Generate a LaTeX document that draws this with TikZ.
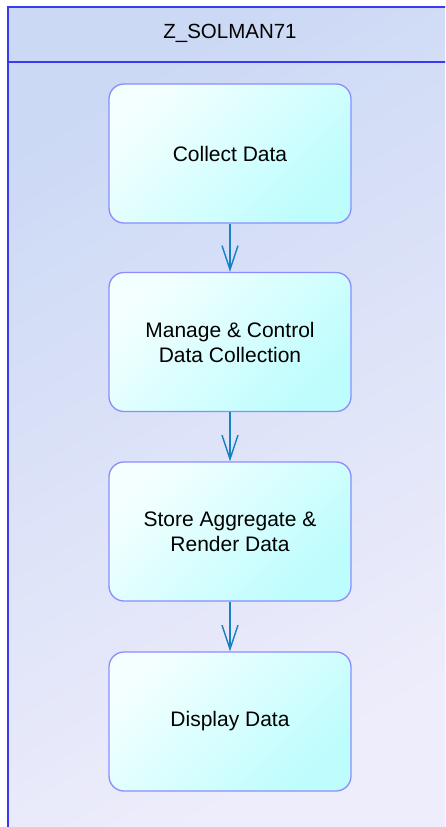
\documentclass[tikz,border=0pt]{standalone}
\usepackage{fontspec}
\setmainfont{Liberation Sans}
\usetikzlibrary{arrows.meta}
\definecolor{bgA}{HTML}{CCD9F5}
\definecolor{bgB}{HTML}{EEEDFB}
\definecolor{frameblue}{HTML}{3A3AF5}
\definecolor{boxA}{HTML}{F4FFFF}
\definecolor{boxB}{HTML}{BDFDFD}
\definecolor{boxline}{HTML}{8C8CFF}
\definecolor{arrowc}{HTML}{1A80C4}
\tikzset{
  actbox/.style={draw=boxline, line width=1.3pt, rounded corners=15pt,
    minimum width=242pt, minimum height=139pt, inner sep=0pt,
    shading=axis, top color=boxA, bottom color=boxB, shading angle=45,
    align=center, font=\fontsize{21}{25}\selectfont},
  flow/.style={draw=arrowc, line width=1.4pt, -{Straight Barb[length=24pt,width=16pt]}}
}
\begin{document}
\begin{tikzpicture}[x=1pt,y=-1pt]
\useasboundingbox (0,0) rectangle (445,827);
\begin{scope}
\clip (0,0) rectangle (445,827);
\fill[white] (0,0) rectangle (445,827);
\shade[shading=axis, top color=bgA, bottom color=bgB, shading angle=30] (8,7) rectangle (450,832);
\draw[frameblue, line width=1.8pt] (8,832) -- (8,7) -- (450,7);
\draw[frameblue, line width=1.8pt] (8,62) -- (450,62);
\end{scope}
\node[font=\fontsize{20.5}{24}\selectfont] (title) at (230,33) {Z\_SOLMAN71};
\node[actbox] (a) at (230,153.5) {Collect Data};
\node[actbox] (b) at (230,342) {Manage \& Control\\Data Collection};
\node[actbox] (c) at (230,531.5) {Store Aggregate \&\\Render Data};
\node[actbox] (d) at (230,721.5) {Display Data};
\draw[flow] (a) -- (b);
\draw[flow] (b) -- (c);
\draw[flow] (c) -- (d);
\end{tikzpicture}
\end{document}
